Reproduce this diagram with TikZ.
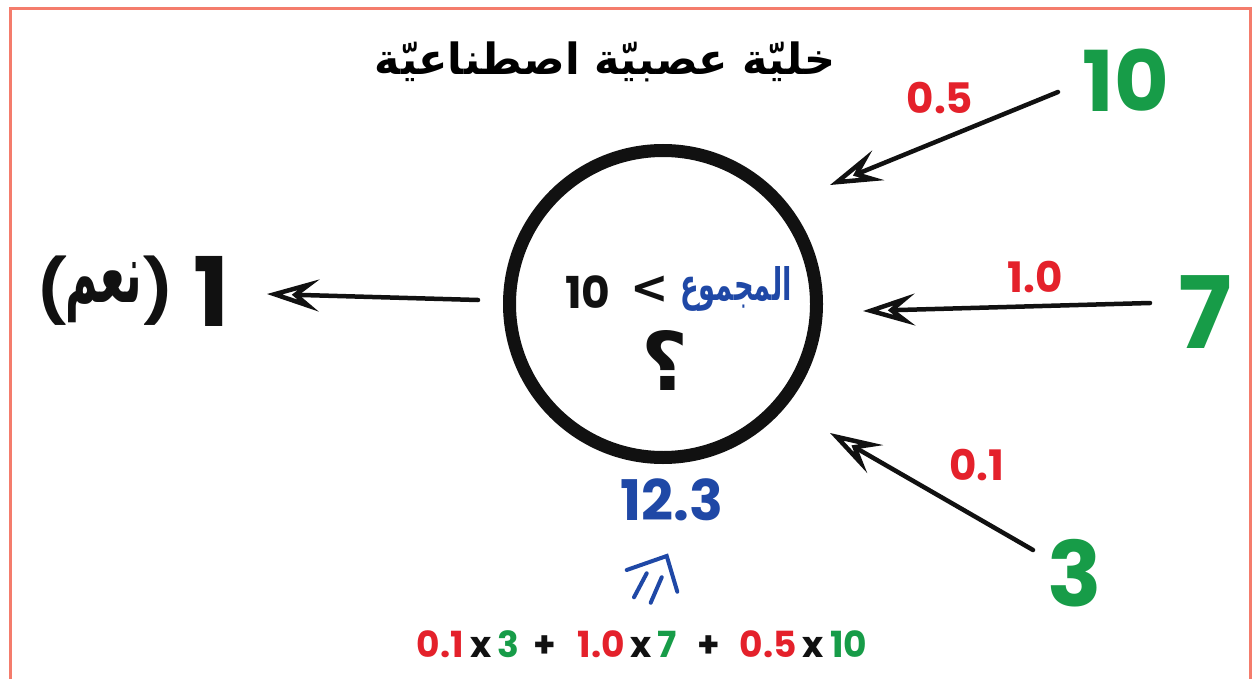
\documentclass[tikz,border=0pt]{standalone}
\usepackage{fontspec}
\usepackage{graphicx}
\setmainfont{Poppins}
\newfontfamily\arabicfont[Script=Arabic]{DejaVu Sans}
\newfontfamily\symfont{DejaVu Sans}
\TeXXeTstate=1
\usetikzlibrary{arrows.meta}
\definecolor{bordercol}{HTML}{F47C6C}
\definecolor{numgreen}{HTML}{179C48}
\definecolor{numred}{HTML}{E4212B}
\definecolor{numblue}{HTML}{1F48A6}
\definecolor{ink}{HTML}{111111}
\begin{document}
\begin{tikzpicture}[x=1pt,y=-1pt,
  every node/.style={inner sep=0pt, outer sep=0pt},
  innum/.style={text=numgreen, font=\bfseries\fontsize{#1}{#1}\selectfont},
  wlabel/.style={text=numred, font=\bfseries\fontsize{42}{46}\selectfont},
  conn/.style={draw=ink, line width=4.5pt, line cap=round, line join=round,
    -{Stealth[open, length=52pt, width=32pt, inset=20pt]}},
  neuron/.style={draw=ink, line width=13pt, circle, minimum size=307pt},
  sketch/.style={draw=numblue, line width=4pt, line cap=round}
]
\useasboundingbox (0,0) rectangle (1252,679);
\fill[white] (0,0) rectangle (1252,679);
\draw[bordercol, line width=3pt] (10,679) -- (10,9) -- (1250,9) -- (1250,679);

% title
\node (title) at (605,62) {\resizebox{460pt}{!}{\arabicfont\bfseries\beginR خليّة عصبيّة اصطناعيّة\endR}};

% neuron
\node[neuron] (cell) at (663,304) {};
\node[text=ink, font=\bfseries\fontsize{44}{46}\selectfont] (thr) at (588,292) {10};
\node[text=ink, font=\symfont\bfseries\fontsize{46}{46}\selectfont] (gt) at (650,290) {<};
\node[text=numblue] (sum) at (736,289) {\resizebox{112pt}{34pt}{\arabicfont\bfseries\beginR المجموع\endR}};
\node[text=ink] (q) at (665,360) {\resizebox{!}{60pt}{\arabicfont\bfseries\beginR ؟\endR}};

% inputs
\node[innum=84] (in10) at (1126,80) {10};
\node[innum=100] (in7) at (1205,312) {7};
\node[innum=90] (in3) at (1075,573) {3};
\node[wlabel] (w05) at (940,98) {0.5};
\node[wlabel] (w10) at (1035,277) {1.0};
\node[wlabel] (w01) at (977,465) {0.1};

\coordinate (s10) at (1058,92);  \coordinate (t10) at (830,185);
\coordinate (s7) at (1150,303);  \coordinate (t7) at (863,311);
\coordinate (s3) at (1033,550);  \coordinate (t3) at (830,433);
\draw[conn] (s10) -- (t10);
\draw[conn] (s7) -- (t7);
\draw[conn] (s3) -- (t3);

% output
\node[text=ink, font=\bfseries\fontsize{96}{96}\selectfont] (out) at (212,291) {1};
\node[text=ink, font=\bfseries\fontsize{62}{62}\selectfont] (lp) at (52,291) {(};
\node[text=ink, font=\bfseries\fontsize{62}{62}\selectfont] (rp) at (158,291) {)};
\node[text=ink] (yes) at (104,293) {\resizebox{76pt}{40pt}{\arabicfont\bfseries\beginR نعم\endR}};
\coordinate (so) at (478,300); \coordinate (to) at (267,294);
\draw[conn] (so) -- (to);

% result
\node[text=numblue, font=\bfseries\fontsize{56}{56}\selectfont] (res) at (672,500) {12.3};
\draw[sketch] (626.7,570) -- (666.7,556) -- (677.3,591.7);
\draw[sketch] (646.7,573.3) -- (634,597.3);
\draw[sketch] (661.7,577.3) -- (650.7,602.7);

% equation
\node[font=\bfseries\fontsize{36}{40}\selectfont] (eq) at (642,644) {%
\textcolor{numred}{0.1}\,\textcolor{ink}{x}\,\textcolor{numgreen}{3}\hspace{14pt}\textcolor{ink}{+}\hspace{22pt}\textcolor{numred}{1.0}\,\textcolor{ink}{x}\,\textcolor{numgreen}{7}\hspace{20pt}\textcolor{ink}{+}\hspace{20pt}\textcolor{numred}{0.5}\,\textcolor{ink}{x}\,\textcolor{numgreen}{10}};
\end{tikzpicture}
\end{document}
